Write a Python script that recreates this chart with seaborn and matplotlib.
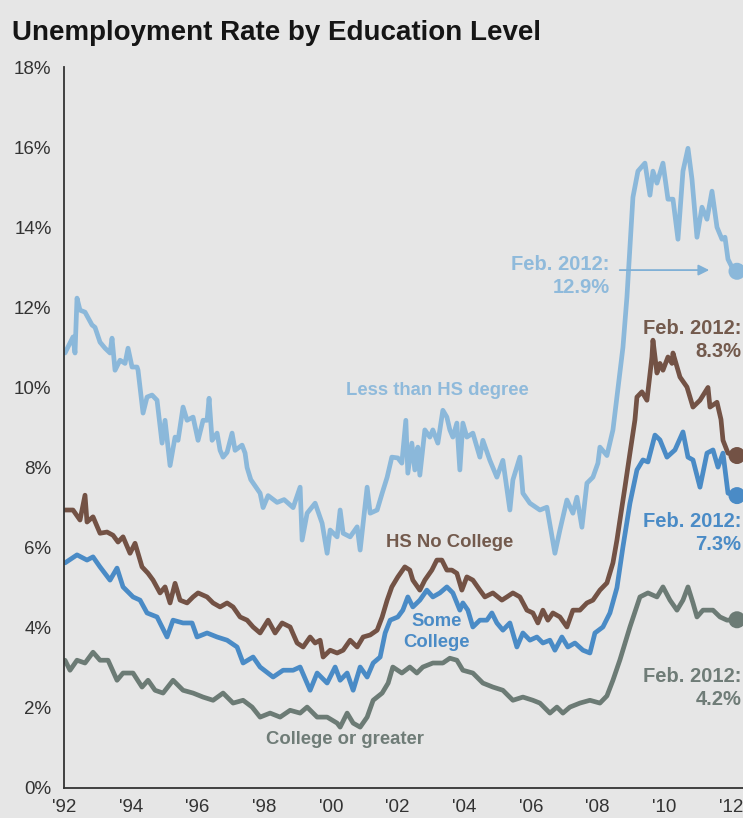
import matplotlib
matplotlib.use("Agg")
import matplotlib.pyplot as plt
import seaborn as sns
import pandas as pd

# ---------------- data ----------------
less_hs_year = [1992.03, 1992.27, 1992.33, 1992.39, 1992.48, 1992.63, 1992.84, 1992.93, 1993.08, 1993.23,
                1993.38, 1993.44, 1993.53, 1993.68, 1993.83, 1993.92, 1994.04, 1994.19, 1994.22, 1994.37,
                1994.49, 1994.64, 1994.79, 1994.94, 1995.03, 1995.18, 1995.33, 1995.42, 1995.57, 1995.69,
                1995.87, 1996.02, 1996.17, 1996.29, 1996.35, 1996.44, 1996.59, 1996.68, 1996.77, 1996.89,
                1997.04, 1997.13, 1997.34, 1997.43, 1997.49, 1997.60, 1997.88, 1997.97, 1998.12, 1998.39,
                1998.60, 1998.87, 1999.08, 1999.14, 1999.29, 1999.53, 1999.74, 1999.89, 1999.98, 2000.19,
                2000.28, 2000.37, 2000.58, 2000.79, 2000.88, 2001.09, 2001.18, 2001.39, 2001.54, 2001.69,
                2001.83, 2002.01, 2002.13, 2002.25, 2002.31, 2002.43, 2002.52, 2002.61, 2002.67, 2002.82,
                2002.97, 2003.06, 2003.21, 2003.36, 2003.48, 2003.57, 2003.66, 2003.78, 2003.87, 2003.96,
                2004.08, 2004.26, 2004.47, 2004.56, 2004.77, 2004.98, 2005.16, 2005.37, 2005.46, 2005.67,
                2005.76, 2005.97, 2006.27, 2006.48, 2006.72, 2006.87, 2007.08, 2007.26, 2007.38, 2007.53,
                2007.68, 2007.86, 2008.01, 2008.07, 2008.28, 2008.46, 2008.58, 2008.76, 2008.88, 2008.97,
                2009.06, 2009.21, 2009.42, 2009.57, 2009.66, 2009.78, 2009.96, 2010.11, 2010.26, 2010.41,
                2010.56, 2010.71, 2010.83, 2010.98, 2011.13, 2011.28, 2011.43, 2011.58, 2011.73, 2011.82,
                2011.91, 2012.03, 2012.18]
less_hs_rate = [10.86, 11.26, 10.86, 12.23, 11.93, 11.88, 11.56, 11.50, 11.13, 10.98,
                10.86, 11.23, 10.43, 10.68, 10.60, 10.98, 10.51, 10.51, 10.43, 9.36,
                9.76, 9.81, 9.68, 8.61, 9.18, 8.05, 8.76, 8.68, 9.51, 9.18,
                9.26, 8.68, 9.18, 9.18, 9.73, 8.68, 8.86, 8.43, 8.26, 8.38,
                8.86, 8.43, 8.56, 8.36, 8.00, 7.70, 7.36, 7.00, 7.30, 7.13,
                7.20, 7.00, 7.51, 6.19, 6.86, 7.11, 6.61, 5.86, 6.44, 6.27,
                6.94, 6.36, 6.27, 6.52, 5.94, 7.51, 6.86, 6.94, 7.36, 7.76,
                8.26, 8.24, 8.11, 9.18, 7.86, 8.61, 7.94, 8.51, 7.81, 8.94,
                8.76, 8.94, 8.61, 9.43, 9.26, 8.94, 8.76, 9.11, 7.94, 9.11,
                8.76, 8.86, 8.26, 8.68, 8.18, 7.76, 8.18, 6.94, 7.69, 8.26,
                7.36, 7.11, 6.94, 7.01, 5.86, 6.44, 7.19, 6.86, 7.26, 6.51,
                7.61, 7.76, 8.11, 8.51, 8.30, 8.94, 9.76, 11.00, 12.26, 13.50,
                14.75, 15.40, 15.60, 14.80, 15.40, 15.10, 15.60, 14.70, 14.70, 13.70,
                15.40, 15.97, 15.20, 13.75, 14.50, 14.20, 14.90, 14.00, 13.70, 13.75,
                13.20, 13.00, 12.90]

hs_year = [1992.03, 1992.27, 1992.48, 1992.63, 1992.69, 1992.87, 1993.08, 1993.29, 1993.47, 1993.62,
           1993.77, 1993.98, 1994.13, 1994.34, 1994.52, 1994.67, 1994.88, 1995.03, 1995.18, 1995.33,
           1995.48, 1995.69, 1995.87, 1996.02, 1996.29, 1996.47, 1996.68, 1996.89, 1997.07, 1997.28,
           1997.49, 1997.67, 1997.88, 1998.12, 1998.33, 1998.54, 1998.78, 1998.99, 1999.17, 1999.38,
           1999.53, 1999.68, 1999.77, 1999.98, 2000.19, 2000.37, 2000.58, 2000.79, 2000.97, 2001.18,
           2001.39, 2001.54, 2001.69, 2001.83, 2002.01, 2002.22, 2002.37, 2002.46, 2002.67, 2002.82,
           2003.03, 2003.18, 2003.33, 2003.48, 2003.63, 2003.78, 2003.93, 2004.08, 2004.26, 2004.47,
           2004.62, 2004.86, 2005.13, 2005.28, 2005.46, 2005.67, 2005.88, 2006.06, 2006.21, 2006.36,
           2006.51, 2006.66, 2006.87, 2007.08, 2007.26, 2007.47, 2007.68, 2007.86, 2008.07, 2008.28,
           2008.46, 2008.58, 2008.67, 2008.82, 2008.97, 2009.12, 2009.18, 2009.33, 2009.48, 2009.63,
           2009.66, 2009.78, 2009.87, 2009.96, 2010.11, 2010.23, 2010.26, 2010.47, 2010.68, 2010.86,
           2011.07, 2011.31, 2011.37, 2011.58, 2011.70, 2011.76, 2011.91, 2012.18]
hs_rate = [6.94, 6.94, 6.69, 7.31, 6.64, 6.77, 6.36, 6.39, 6.31, 6.14,
           6.27, 5.86, 6.11, 5.52, 5.36, 5.19, 4.87, 5.02, 4.62, 5.11,
           4.69, 4.62, 4.77, 4.87, 4.77, 4.62, 4.52, 4.62, 4.52, 4.27,
           4.19, 4.02, 3.87, 4.19, 3.87, 4.12, 4.02, 3.62, 3.52, 3.77,
           3.62, 3.69, 3.27, 3.44, 3.37, 3.44, 3.69, 3.52, 3.77, 3.82,
           3.94, 4.27, 4.69, 5.02, 5.27, 5.52, 5.44, 5.19, 4.94, 5.19,
           5.44, 5.69, 5.69, 5.44, 5.44, 5.36, 4.94, 5.27, 5.19, 4.94,
           4.77, 4.87, 4.69, 4.77, 4.87, 4.77, 4.44, 4.37, 4.12, 4.44,
           4.19, 4.37, 4.27, 4.02, 4.44, 4.44, 4.62, 4.69, 4.94, 5.12,
           5.62, 6.19, 6.69, 7.51, 8.36, 9.19, 9.76, 9.89, 9.68, 10.76,
           11.18, 10.36, 10.60, 10.43, 10.76, 10.60, 10.86, 10.26, 10.01, 9.51,
           9.68, 10.00, 9.51, 9.63, 9.20, 8.68, 8.36, 8.30]

some_col_year = [1992.03, 1992.39, 1992.69, 1992.87, 1993.08, 1993.38, 1993.59, 1993.77, 1994.07, 1994.28,
                 1994.49, 1994.79, 1995.09, 1995.27, 1995.57, 1995.84, 1995.99, 1996.29, 1996.59, 1996.89,
                 1997.19, 1997.37, 1997.67, 1997.88, 1998.27, 1998.57, 1998.87, 1999.08, 1999.38, 1999.59,
                 1999.89, 2000.13, 2000.28, 2000.49, 2000.67, 2000.88, 2001.09, 2001.27, 2001.48, 2001.63,
                 2001.78, 2002.01, 2002.16, 2002.31, 2002.46, 2002.67, 2002.88, 2003.06, 2003.27, 2003.48,
                 2003.66, 2003.87, 2003.96, 2004.11, 2004.26, 2004.47, 2004.68, 2004.83, 2004.98, 2005.16,
                 2005.37, 2005.58, 2005.76, 2005.97, 2006.18, 2006.36, 2006.57, 2006.72, 2006.93, 2007.11,
                 2007.32, 2007.56, 2007.77, 2007.92, 2008.16, 2008.37, 2008.58, 2008.76, 2008.97, 2009.18,
                 2009.36, 2009.51, 2009.72, 2009.87, 2010.08, 2010.32, 2010.56, 2010.71, 2010.86, 2011.07,
                 2011.28, 2011.46, 2011.61, 2011.76, 2011.91, 2012.18]
some_col_rate = [5.62, 5.82, 5.69, 5.77, 5.52, 5.19, 5.49, 5.02, 4.77, 4.69,
                 4.37, 4.27, 3.77, 4.19, 4.12, 4.12, 3.77, 3.87, 3.77, 3.69,
                 3.52, 3.12, 3.27, 3.02, 2.77, 2.94, 2.94, 3.02, 2.44, 2.87,
                 2.62, 3.02, 2.69, 2.87, 2.44, 3.02, 2.77, 3.12, 3.27, 3.87,
                 4.19, 4.27, 4.44, 4.77, 4.52, 4.69, 4.94, 4.77, 4.87, 5.02,
                 4.87, 4.44, 4.62, 4.44, 4.02, 4.19, 4.19, 4.37, 4.12, 3.94,
                 4.12, 3.52, 3.87, 3.69, 3.77, 3.62, 3.69, 3.44, 3.77, 3.52,
                 3.62, 3.44, 3.37, 3.87, 4.02, 4.37, 5.00, 6.02, 7.11, 7.94,
                 8.19, 8.14, 8.81, 8.69, 8.26, 8.44, 8.89, 8.26, 8.19, 7.51,
                 8.36, 8.44, 8.01, 8.36, 7.36, 7.30]

college_year = [1992.03, 1992.18, 1992.39, 1992.63, 1992.87, 1993.08, 1993.32, 1993.59, 1993.77, 1994.07,
                1994.34, 1994.52, 1994.73, 1994.97, 1995.27, 1995.57, 1995.87, 1996.17, 1996.47, 1996.77,
                1997.07, 1997.37, 1997.64, 1997.88, 1998.18, 1998.48, 1998.78, 1999.08, 1999.29, 1999.59,
                1999.89, 2000.19, 2000.28, 2000.49, 2000.67, 2000.88, 2001.09, 2001.27, 2001.54, 2001.72,
                2001.86, 2002.13, 2002.37, 2002.58, 2002.76, 2003.06, 2003.36, 2003.57, 2003.78, 2003.96,
                2004.26, 2004.56, 2004.86, 2005.16, 2005.46, 2005.76, 2006.06, 2006.27, 2006.57, 2006.78,
                2006.96, 2007.17, 2007.47, 2007.77, 2008.07, 2008.28, 2008.46, 2008.67, 2008.97, 2009.27,
                2009.51, 2009.78, 2009.96, 2010.17, 2010.38, 2010.56, 2010.71, 2010.86, 2010.98, 2011.16,
                2011.46, 2011.67, 2011.88, 2012.18]
college_rate = [3.19, 2.94, 3.19, 3.12, 3.39, 3.19, 3.19, 2.69, 2.87, 2.87,
                2.52, 2.69, 2.44, 2.37, 2.69, 2.44, 2.37, 2.27, 2.19, 2.37,
                2.12, 2.19, 2.02, 1.77, 1.87, 1.77, 1.94, 1.87, 2.02, 1.77,
                1.77, 1.62, 1.52, 1.87, 1.62, 1.52, 1.77, 2.19, 2.37, 2.62,
                3.02, 2.87, 3.02, 2.87, 3.02, 3.12, 3.12, 3.24, 3.19, 2.94,
                2.87, 2.62, 2.52, 2.44, 2.19, 2.27, 2.19, 2.12, 1.87, 2.02,
                1.87, 2.02, 2.12, 2.19, 2.12, 2.30, 2.69, 3.20, 4.02, 4.77,
                4.87, 4.77, 5.02, 4.69, 4.44, 4.69, 5.02, 4.62, 4.27, 4.44,
                4.44, 4.27, 4.19, 4.20]

series_names = ["Less than HS degree", "HS No College", "Some College", "College or greater"]
latest_values = [12.9, 8.3, 7.3, 4.2]
x_ticks = [1992, 1994, 1996, 1998, 2000, 2002, 2004, 2006, 2008, 2010, 2012]
x_tick_labels = ["'92", "'94", "'96", "'98", "'00", "'02", "'04", "'06", "'08", "'10", "'12"]
y_ticks = [0, 2, 4, 6, 8, 10, 12, 14, 16, 18]
title = "Unemployment Rate by Education Level"

# ---------------- styling ----------------
colors = {"Less than HS degree": "#8bb8da",
          "HS No College": "#735245",
          "Some College": "#4a8bc6",
          "College or greater": "#6c7b75"}
text_colors = {"Less than HS degree": "#8fbadb",
               "HS No College": "#735a4d",
               "Some College": "#4a8bc6",
               "College or greater": "#6f7c77"}
BG = "#e6e6e6"
FONT = ["Liberation Sans", "DejaVu Sans"]

sns.set_theme(style="white")
plt.rcParams["font.family"] = FONT

frames = []
for name, xs, ys in zip(series_names,
                        [less_hs_year, hs_year, some_col_year, college_year],
                        [less_hs_rate, hs_rate, some_col_rate, college_rate]):
    frames.append(pd.DataFrame({"year": xs, "rate": ys, "series": name}))
df = pd.concat(frames, ignore_index=True)

end_df = pd.DataFrame({"year": [less_hs_year[-1], hs_year[-1], some_col_year[-1], college_year[-1]],
                       "rate": latest_values, "series": series_names})

fig = plt.figure(figsize=(7.43, 8.18), dpi=100, facecolor=BG)
ax = fig.add_axes([64 / 743, 30 / 818, 1 - 64 / 743, 721 / 818])
ax.set_facecolor(BG)

sns.lineplot(data=df, x="year", y="rate", hue="series", palette=colors,
             estimator=None, linewidth=3.4, legend=False, ax=ax)
sns.scatterplot(data=end_df, x="year", y="rate", hue="series", palette=colors,
                s=150, linewidth=0, legend=False, ax=ax, zorder=5, clip_on=False)

ax.set_xlim(1992, 2012.36)
ax.set_ylim(0, 18)
ax.set_xticks(x_ticks)
ax.set_xticklabels(x_tick_labels)
ax.set_yticks(y_ticks)
ax.set_yticklabels([f"{v}%" for v in y_ticks])
ax.set_xlabel("")
ax.set_ylabel("")
for s in ["top", "right"]:
    ax.spines[s].set_visible(False)
for s in ["left", "bottom"]:
    ax.spines[s].set_color("#333333")
    ax.spines[s].set_linewidth(1.3)
ax.tick_params(axis="both", direction="out", length=6, width=1.2, color="#333333",
               labelsize=13.5, labelcolor="#333333", pad=3)
ax.tick_params(axis="x", pad=2)

fig.text(12 / 743, 1 - 33 / 818, title, fontsize=20, fontweight="bold",
         color="#151515", va="center", ha="left")

lab_kw = dict(fontsize=13.3, fontweight="bold", ha="center", va="center")
ax.text(2003.21, 9.93, "Less than HS degree", color=text_colors["Less than HS degree"], **lab_kw)
ax.text(2003.57, 6.12, "HS No College", color=text_colors["HS No College"], **lab_kw)
ax.text(2003.18, 3.89, "Some\nCollege", color=text_colors["Some College"], linespacing=1.3, **lab_kw)
ax.text(2000.43, 1.2, "College or greater", color=text_colors["College or greater"], **lab_kw)

feb_kw = dict(fontsize=14.5, fontweight="bold", ha="right", va="center", linespacing=1.3,
              clip_on=False)
ax.text(2008.37, 12.78, f"Feb. 2012:\n{latest_values[0]}%", color=text_colors["Less than HS degree"], **feb_kw)
ax.text(2012.31, 11.18, f"Feb. 2012:\n{latest_values[1]}%", color=text_colors["HS No College"], **feb_kw)
ax.text(2012.31, 6.37, f"Feb. 2012:\n{latest_values[2]}%", color=text_colors["Some College"], **feb_kw)
ax.text(2012.31, 2.50, f"Feb. 2012:\n{latest_values[3]}%", color=text_colors["College or greater"], **feb_kw)

ax.annotate("", xy=(2011.43, 12.93), xytext=(2008.58, 12.93),
            arrowprops=dict(arrowstyle="-|>", color="#7fb0d6", lw=1.3, mutation_scale=16))

fig.savefig("out.png", dpi=100, facecolor=BG)
